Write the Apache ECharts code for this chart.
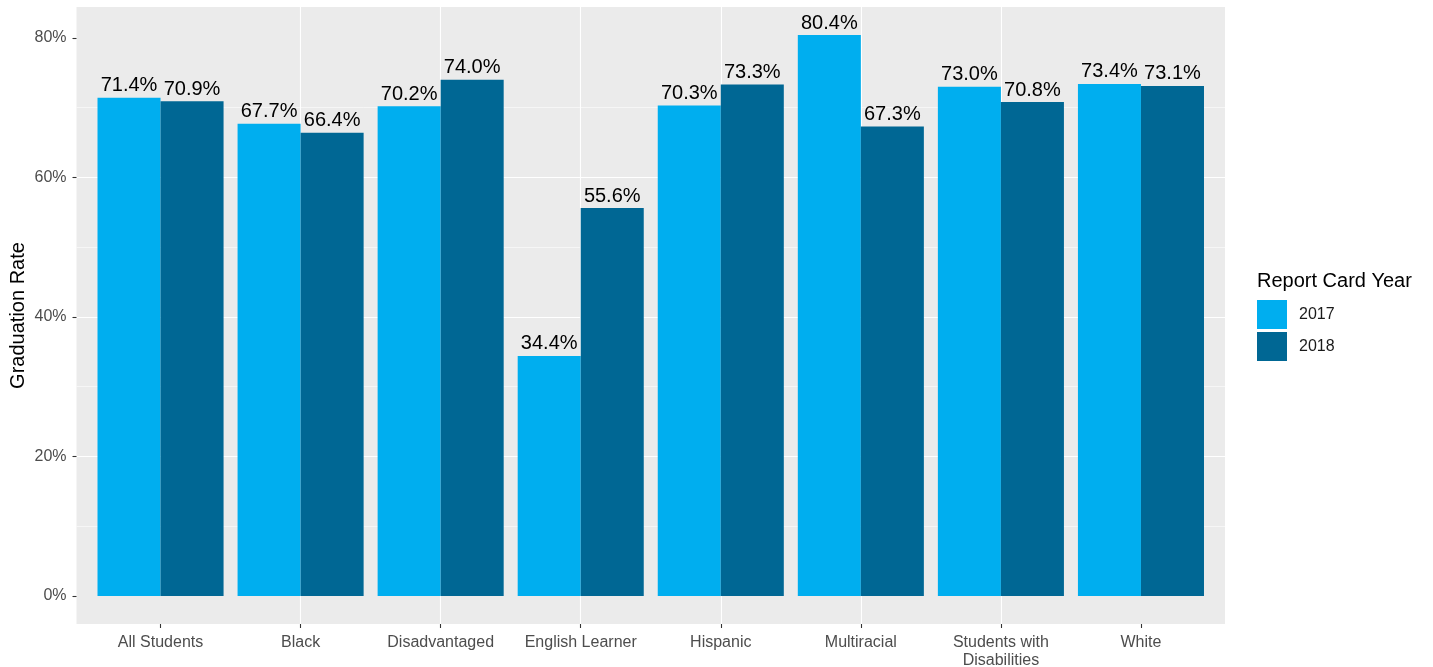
<!DOCTYPE html>
<html>
<head>
<meta charset="utf-8">
<script src="https://cdn.jsdelivr.net/npm/echarts@6/dist/echarts.min.js"></script>
<style>
html,body{margin:0;padding:0;background:#fff;}
#chart{width:1433px;height:667px;}
</style>
</head>
<body>
<div id="chart"></div>
<script>
var categories = ['All Students', 'Black', 'Disadvantaged', 'English Learner', 'Hispanic', 'Multiracial', 'Students with\nDisabilities', 'White'];
var values2017 = [71.4, 67.7, 70.2, 34.4, 70.3, 80.4, 73.0, 73.4];
var values2018 = [70.9, 66.4, 74.0, 55.6, 73.3, 67.3, 70.8, 73.1];
var seriesNames = ['2017', '2018'];
var yTicks = [0, 20, 40, 60, 80];
var xGridValues = [0, 1, 2, 3, 4, 5, 6, 7];

var yMin = -4.02, yMax = 84.42;
var FONT = '"Liberation Sans", Arial, sans-serif';

var panelLeft = 76.5, panelRight = 1225, panelTop = 7, panelBottom = 624;
var unit = (panelRight - panelLeft) / 8.2;

var chart = echarts.init(document.getElementById('chart'), null, {renderer: 'canvas'});
var labelFmt = function (p) { return p.value.toFixed(1) + '%'; };

chart.setOption({
  animation: false,
  backgroundColor: '#ffffff',
  textStyle: {fontFamily: FONT},
  title: {
    text: 'Report Card Year',
    left: 1252, top: 266,
    textStyle: {fontFamily: FONT, fontSize: 20, fontWeight: 'normal', color: '#000'}
  },
  legend: {
    orient: 'vertical',
    left: 1252, top: 299,
    padding: [1, 5, 1, 5],
    itemWidth: 30, itemHeight: 29, itemGap: 3,
    icon: 'rect',
    data: seriesNames,
    textStyle: {fontFamily: FONT, fontSize: 16, color: '#1a1a1a', padding: [0, 0, 0, 7]}
  },
  grid: [
    {left: panelLeft, top: panelTop, width: panelRight - panelLeft, height: panelBottom - panelTop,
     show: true, backgroundColor: '#EBEBEB', borderWidth: 0, containLabel: false, outerBoundsMode: 'none'},
    {left: panelLeft + 0.1 * unit, top: panelTop, width: 8 * unit, height: panelBottom - panelTop,
     show: false, containLabel: false, outerBoundsMode: 'none'}
  ],
  xAxis: [
    {gridIndex: 0, type: 'value', min: -0.6, max: 7.6, position: 'bottom',
     axisLine: {show: false, onZero: false}, axisTick: {show: false, customValues: xGridValues},
     axisLabel: {show: false, customValues: xGridValues},
     splitLine: {show: true, showMinLine: false, showMaxLine: false, lineStyle: {color: '#ffffff', width: 1.1}}},
    {gridIndex: 1, type: 'category', data: categories, boundaryGap: true, position: 'bottom',
     axisLine: {show: false, onZero: false},
     axisTick: {show: true, alignWithLabel: true, length: 4, lineStyle: {color: '#333333', width: 1.1}},
     axisLabel: {show: true, interval: 0, margin: 10, fontFamily: FONT, fontSize: 16, color: '#4D4D4D', lineHeight: 18},
     splitLine: {show: false}}
  ],
  yAxis: [
    {gridIndex: 0, type: 'value', min: yMin, max: yMax, position: 'left',
     name: 'Graduation Rate', nameLocation: 'middle', nameGap: 48, nameRotate: 90, nameMoveOverlap: false,
     nameTextStyle: {fontFamily: FONT, fontSize: 20, color: '#000'},
     axisLine: {show: false, onZero: false},
     axisTick: {show: true, length: 4, customValues: yTicks, lineStyle: {color: '#333333', width: 1.1}},
     axisLabel: {show: true, margin: 10, customValues: yTicks, fontFamily: FONT, fontSize: 16, color: '#4D4D4D',
       formatter: function (v) { return Math.abs(v % 20) < 1e-6 ? Math.round(v) + '%' : ''; }},
     splitLine: {show: true, showMinLine: false, showMaxLine: false, lineStyle: {color: '#ffffff', width: 1.1}},
     minorTick: {show: false, splitNumber: 2},
     minorSplitLine: {show: true, lineStyle: {color: '#ffffff', width: 0.55}}},
    {gridIndex: 1, type: 'value', min: yMin, max: yMax, position: 'left',
     axisLine: {show: false, onZero: false}, axisTick: {show: false}, axisLabel: {show: false}, splitLine: {show: false}}
  ],
  series: [
    {name: seriesNames[0], type: 'bar', xAxisIndex: 1, yAxisIndex: 1, data: values2017,
     barGap: '0%', barCategoryGap: '10%',
     itemStyle: {color: '#00AEEF'},
     label: {show: true, position: 'top', distance: 2, formatter: labelFmt,
       fontFamily: FONT, fontSize: 20, color: '#000'}},
    {name: seriesNames[1], type: 'bar', xAxisIndex: 1, yAxisIndex: 1, data: values2018,
     barGap: '0%', barCategoryGap: '10%',
     itemStyle: {color: '#006794'},
     label: {show: true, position: 'top', distance: 2, formatter: labelFmt,
       fontFamily: FONT, fontSize: 20, color: '#000'}}
  ]
});
</script>
</body>
</html>
